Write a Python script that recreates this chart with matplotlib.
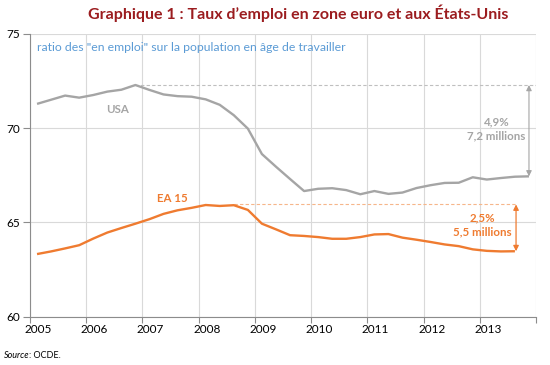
import numpy as np
import matplotlib.pyplot as plt
from matplotlib.transforms import ScaledTranslation

plt.rcParams['font.family'] = ['Lato', 'DejaVu Sans']

# quarterly series, 2005Q1 onwards
usa = [71.28, 71.50, 71.72, 71.61, 71.75, 71.93, 72.03, 72.28,
       72.02, 71.78, 71.69, 71.66, 71.52, 71.23, 70.68, 69.97,
       68.62, 67.95, 67.30, 66.66, 66.78, 66.81, 66.71, 66.49,
       66.66, 66.51, 66.58, 66.82, 66.97, 67.09, 67.10, 67.39,
       67.27, 67.35, 67.42, 67.44]
ea15 = [63.32, 63.46, 63.62, 63.79, 64.14, 64.46, 64.70, 64.93,
        65.17, 65.45, 65.64, 65.77, 65.92, 65.87, 65.91, 65.66,
        64.93, 64.63, 64.32, 64.28, 64.22, 64.13, 64.13, 64.22,
        64.36, 64.38, 64.19, 64.08, 63.96, 63.83, 63.74, 63.57,
        63.49, 63.46, 63.47]
years = list(range(2005, 2014))
yticks = [60, 65, 70, 75]

x_usa = 2005 + (np.arange(len(usa)) + 0.5) / 4
x_ea = 2005 + (np.arange(len(ea15)) + 0.5) / 4

grey = '#a5a5a5'
orange = '#ef7b30'

fig = plt.figure(figsize=(5.5, 3.65), dpi=100)
ax = fig.add_axes([30 / 550, 1 - 316.7 / 365, 506 / 550, 283 / 365])

ax.plot(x_usa, usa, color=grey, lw=1.7, solid_capstyle='butt', zorder=3)
ax.plot(x_ea, ea15, color=orange, lw=1.7, solid_capstyle='butt', zorder=3)

# pre-crisis peaks and gaps
iu = int(np.argmax(usa))
ie = int(np.argmax(ea15[:16])) + 2
ax.plot([x_usa[iu], 2014], [usa[iu], usa[iu]], ls=(0, (3, 2)), lw=0.8, color='#bfbfbf', zorder=2)
ax.plot([x_ea[ie], x_ea[-1] + 0.02], [ea15[ie] + 0.04, ea15[ie] + 0.04], ls=(0, (3, 2)), lw=0.8, color='#f6b68a', zorder=2)

ax.annotate('', xy=(x_usa[-1], usa[-1]), xytext=(x_usa[-1], usa[iu]),
            arrowprops=dict(arrowstyle='<|-|>', color=grey, lw=0.8, mutation_scale=8, shrinkA=0, shrinkB=0))
ax.annotate('', xy=(x_ea[-1] + 0.02, ea15[-1]), xytext=(x_ea[-1] + 0.02, ea15[ie] + 0.04),
            arrowprops=dict(arrowstyle='<|-|>', color=orange, lw=0.9, mutation_scale=8, shrinkA=0, shrinkB=0))

ax.text(2013.3, 69.95, '4,9%\n7,2 millions', color=grey, fontsize=8.3, fontweight='bold',
        ha='center', va='center', linespacing=1.3)
ax.text(2013.04, 64.87, '2,5%\n5,5 millions', color=orange, fontsize=8.3, fontweight='bold',
        ha='center', va='center', linespacing=1.3)
ax.text(2006.56, 71.0, 'USA', color=grey, fontsize=8.3, fontweight='bold', ha='center', va='center')
ax.text(2007.53, 66.28, 'EA 15', color=orange, fontsize=8.3, fontweight='bold', ha='center', va='center')
ax.text(2005.13, 74.28, 'ratio des "en emploi" sur la population en âge de travailler',
        color='#5b9bd5', fontsize=8.8, ha='left', va='center')

ax.set_xlim(2005, 2014)
ax.set_ylim(60, 75)
ax.set_xticks(years + [2014])
ax.set_xticklabels([])
ax.set_xticks([y + 0.5 for y in years], minor=True)
ax.set_xticklabels([str(y) for y in years], minor=True)
ax.tick_params(axis='x', which='minor', length=0, labelsize=8.5, pad=5)
for lab in ax.get_xticklabels(minor=True):
    lab.set_transform(lab.get_transform() + ScaledTranslation(-0.2, 0, fig.dpi_scale_trans))
ax.tick_params(axis='x', which='major', length=4, color='#8c8c8c')
ax.set_yticks(yticks)
ax.tick_params(axis='y', length=5, color='#8c8c8c', labelsize=8.5, pad=2)
ax.grid(True, which='major', color='#d9d9d9', lw=0.8)
ax.set_axisbelow(True)
for s in ['top', 'right']:
    ax.spines[s].set_visible(False)
for s in ['left', 'bottom']:
    ax.spines[s].set_color('#8c8c8c')
    ax.spines[s].set_linewidth(0.8)

fig.text(0.542, 0.965, 'Graphique 1 : Taux d\u2019emploi en zone euro et aux États-Unis',
         color='#9b1c1f', fontsize=11.5, fontweight='bold', ha='center', va='center')
fig.text(4 / 550, 1 - 355 / 365, 'Source', fontsize=6.5, style='italic', ha='left', va='center')
fig.text(29 / 550, 1 - 355 / 365, ': OCDE.', fontsize=6.5, ha='left', va='center')

fig.savefig('out.png', dpi=100)
